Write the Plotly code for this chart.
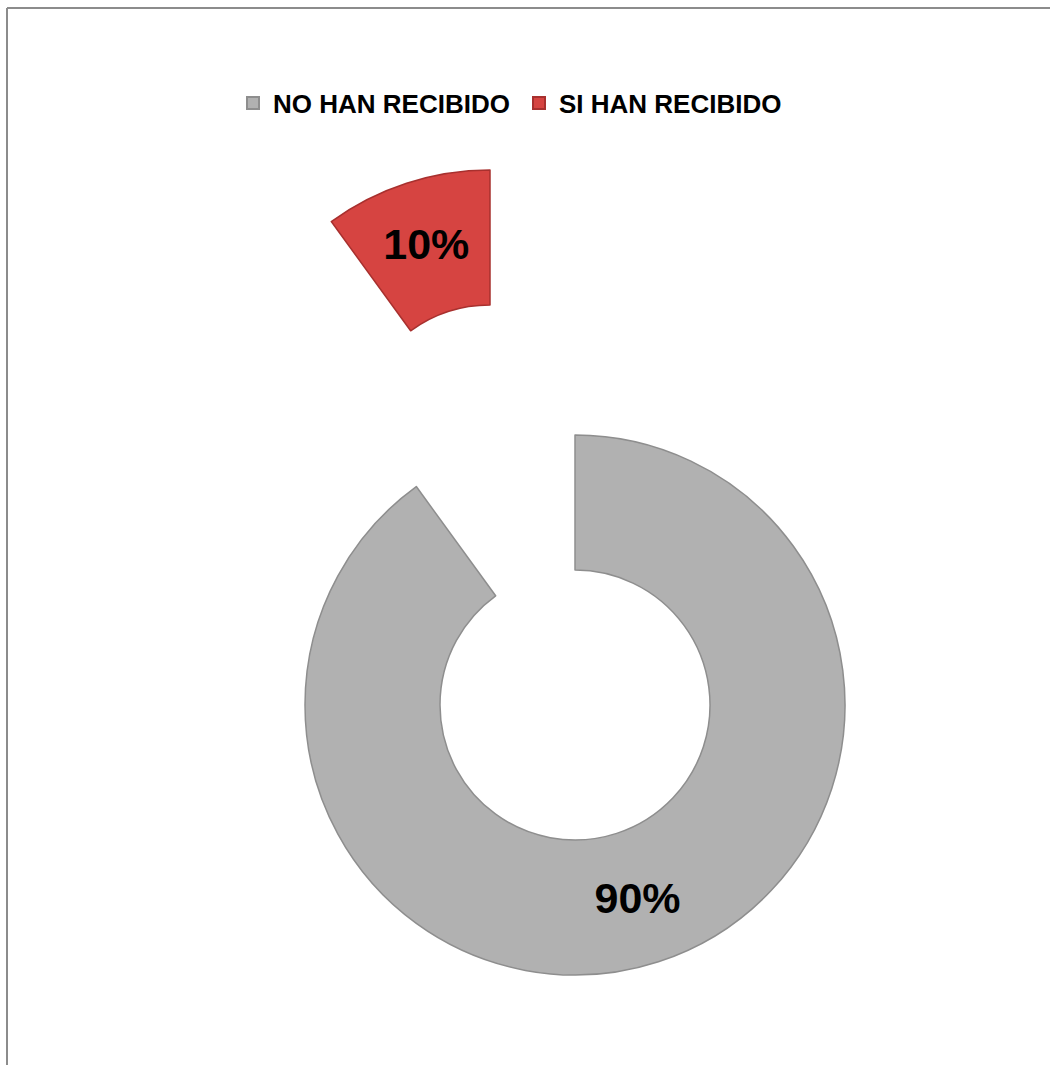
import plotly.graph_objects as go

# Survey result: share of respondents who have / have not received it
labels = ["NO HAN RECIBIDO", "SI HAN RECIBIDO"]
values = [90, 10]
colors = ["#b1b1b1", "#d64441"]
edge_colors = ["#8e8e8e", "#a8302e"]

total = sum(values)
pct_text = [f"{round(100 * v / total)}%" for v in values]

W, H = 1050, 1065
R = 270  # ring outer radius in px


def domain_for(cx, cy):
    """Square pie domain (paper fractions) centred at pixel (cx, cy) from top-left."""
    cyb = H - cy
    return dict(x=[(cx - R) / W, (cx + R) / W], y=[(cyb - R) / H, (cyb + R) / H])


clear = "rgba(0,0,0,0)"


def ring(visible_idx, cx, cy):
    fill = [colors[i] if i == visible_idx else clear for i in range(len(values))]
    lines = [edge_colors[i] if i == visible_idx else clear for i in range(len(values))]
    widths = [1.5 if i == visible_idx else 0 for i in range(len(values))]
    txt = [pct_text[i] if i == visible_idx else "" for i in range(len(values))]
    return go.Pie(
        labels=labels,
        values=values,
        sort=False,
        direction="clockwise",
        rotation=0,
        hole=0.5,
        domain=domain_for(cx, cy),
        marker=dict(colors=fill, line=dict(color=lines, width=widths)),
        text=txt,
        textinfo="text",
        textposition="inside",
        insidetextorientation="horizontal",
        textfont=dict(family="Liberation Sans, Arial, sans-serif", size=43, color="black", weight="bold"),
        showlegend=False,
        hoverinfo="label+percent",
    )


fig = go.Figure()
# main ring and the detached slice, drawn as two aligned rings
fig.add_trace(ring(0, 575, 705))
fig.add_trace(ring(1, 490, 440))

# legend entries
for lab, col, edge in zip(labels, colors, edge_colors):
    fig.add_trace(go.Scatter(
        x=[None], y=[None], mode="markers", name=lab,
        marker=dict(symbol="square", size=13, color=col, line=dict(color=edge, width=1)),
        showlegend=True, hoverinfo="skip",
    ))

fig.update_layout(
    width=W, height=H,
    margin=dict(l=0, r=0, t=0, b=0),
    paper_bgcolor="white",
    plot_bgcolor="white",
    xaxis=dict(visible=False),
    yaxis=dict(visible=False),
    legend=dict(
        orientation="h",
        x=233 / W, xanchor="left",
        y=1 - 103 / H, yanchor="middle",
        entrywidth=241, entrywidthmode="pixels",
        font=dict(family="Liberation Sans, Arial, sans-serif", size=26, color="black", weight="bold"),
        itemsizing="constant",
        bgcolor="rgba(0,0,0,0)",
    ),
    shapes=[
        dict(type="line", xref="paper", yref="paper",
             x0=7 / W, x1=1.0, y0=1 - 8 / H, y1=1 - 8 / H,
             line=dict(color="#8c8c8c", width=2)),
        dict(type="line", xref="paper", yref="paper",
             x0=7 / W, x1=7 / W, y0=0, y1=1 - 8 / H,
             line=dict(color="#8c8c8c", width=2)),
    ],
)

fig.write_html("out.html")
